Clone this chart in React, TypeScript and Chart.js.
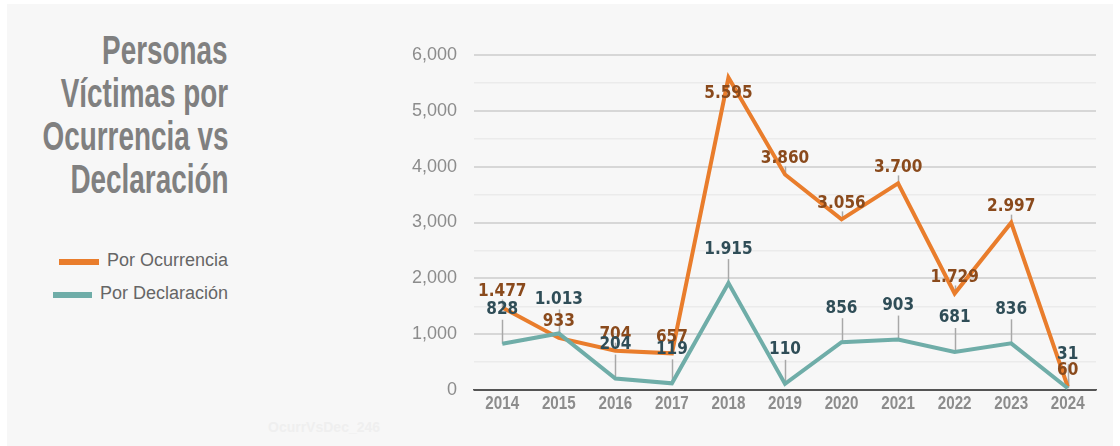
import React, { useEffect, useRef } from "react";
import { Chart, registerables } from "chart.js";

Chart.register(...registerables);

const years = ["2014", "2015", "2016", "2017", "2018", "2019", "2020", "2021", "2022", "2023", "2024"];
const porOcurrencia = [1477, 933, 704, 657, 5595, 3860, 3056, 3700, 1729, 2997, 60];
const porDeclaracion = [828, 1013, 204, 119, 1915, 110, 856, 903, 681, 836, 31];
const titleLines = ["Personas", "Víctimas por", "Ocurrencia vs", "Declaración"];
const seriesNames = ["Por Ocurrencia", "Por Declaración"];
const yMax = 6000;
const yStep = 500;

const ORANGE = "#e97d2c";
const TEAL = "#6fada8";
const ORANGE_LABEL = "#8a4a1c";
const TEAL_LABEL = "#2f4d57";

const fmtDot = (v: number) => String(v).replace(/\B(?=(\d{3})+(?!\d))/g, ".");
const fmtComma = (v: number) => String(v).replace(/\B(?=(\d{3})+(?!\d))/g, ",");

const labelPlugin = {
  id: "pointLabels",
  beforeDatasetsDraw(chart: any) {
    const ctx = chart.ctx;
    ctx.save();
    ctx.strokeStyle = "#a8a8a8";
    ctx.lineWidth = 1.5;
    chart.data.datasets.forEach((ds: any, di: number) => {
      const meta = chart.getDatasetMeta(di);
      const cfg = ds.labelCfg;
      meta.data.forEach((pt: any) => {
        const below = cfg.canFlip && pt.y - cfg.offset - 9 < chart.chartArea.top + 15;
        ctx.beginPath();
        ctx.moveTo(Math.round(pt.x) + 0.5, pt.y);
        ctx.lineTo(Math.round(pt.x) + 0.5, below ? pt.y + cfg.lead : pt.y - cfg.lead);
        ctx.stroke();
      });
    });
    ctx.restore();
  },
  afterDatasetsDraw(chart: any) {
    const ctx = chart.ctx;
    ctx.save();
    ctx.textAlign = "center";
    ctx.textBaseline = "middle";
    ctx.font = "bold 17px 'DejaVu Sans Condensed', 'DejaVu Sans', sans-serif";
    const order = [1, 0];
    order.forEach((di) => {
      const ds: any = chart.data.datasets[di];
      const meta = chart.getDatasetMeta(di);
      const cfg = ds.labelCfg;
      ctx.fillStyle = cfg.color;
      meta.data.forEach((pt: any, i: number) => {
        const below = cfg.canFlip && pt.y - cfg.offset - 9 < chart.chartArea.top + 15;
        const y = below ? pt.y + cfg.offset : pt.y - cfg.offset;
        ctx.fillText(fmtDot(ds.data[i]), pt.x, y);
      });
    });
    ctx.restore();
  },
  afterDraw(chart: any) {
    // condensed category labels
    const ctx = chart.ctx;
    const xs = chart.scales.x;
    ctx.save();
    ctx.fillStyle = "#8c8c8c";
    ctx.font = "bold 19px 'Liberation Sans', sans-serif";
    ctx.textAlign = "center";
    ctx.textBaseline = "alphabetic";
    const labels = chart.data.labels;
    labels.forEach((lab: string, i: number) => {
      const x = xs.getPixelForTick(i);
      ctx.save();
      ctx.translate(x, chart.chartArea.bottom + 19);
      ctx.scale(0.8, 1);
      ctx.fillText(lab, 0, 0);
      ctx.restore();
    });
    ctx.restore();
  },
};

function LineChart() {
  const ref = useRef<HTMLCanvasElement>(null);
  useEffect(() => {
    if (!ref.current) return;
    const chart = new Chart(ref.current, {
      type: "line",
      data: {
        labels: years,
        datasets: [
          {
            label: seriesNames[1],
            data: porDeclaracion,
            borderColor: TEAL,
            borderWidth: 4,
            pointRadius: 0,
            tension: 0,
            labelCfg: { color: TEAL_LABEL, offset: 34, lead: 24, canFlip: false },
          } as any,
          {
            label: seriesNames[0],
            data: porOcurrencia,
            borderColor: ORANGE,
            borderWidth: 4,
            pointRadius: 0,
            tension: 0,
            labelCfg: { color: ORANGE_LABEL, offset: 16, lead: 8, canFlip: true },
          } as any,
        ],
      },
      options: {
        responsive: false,
        animation: false,
        layout: { padding: { top: 55, right: 24, left: 0, bottom: 0 } },
        plugins: { legend: { display: false }, tooltip: { enabled: false }, title: { display: false } },
        scales: {
          x: {
            offset: true,
            grid: { display: false, drawTicks: false },
            border: { display: true, color: "#555555", width: 1.5 },
            ticks: {
              color: "rgba(0,0,0,0)",
              padding: 1,
              font: { family: "'Liberation Sans', sans-serif", size: 19, weight: "bold" },
            },
            afterFit: (s: any) => {
              s.height = 56;
            },
          },
          y: {
            min: 0,
            max: yMax,
            border: { display: false },
            grid: {
              drawTicks: false,
              color: (c: any) =>
                c.tick && c.tick.value === 0 ? "#555555" : c.tick && c.tick.value % 1000 === 0 ? "#d7d7d7" : "#ebebeb",
              lineWidth: (c: any) => (c.tick && c.tick.value % 1000 === 0 ? 2 : 1.5),
            },
            ticks: {
              stepSize: yStep,
              padding: 17,
              color: "#8c8c8c",
              font: { family: "'Liberation Sans', sans-serif", size: 18 },
              callback: (v: any) => (Number(v) % 1000 === 0 ? fmtComma(Number(v)) : ""),
            },
            afterFit: (s: any) => {
              s.width = 94;
            },
          },
        },
      } as any,
      plugins: [labelPlugin],
    });
    return () => chart.destroy();
  }, []);
  return (
    <canvas
      ref={ref}
      width={740}
      height={446}
      style={{ position: "absolute", left: 380, top: 0, width: 740, height: 446 }}
    />
  );
}

export default function App() {
  return (
    <div>
      <div style={{ position: "absolute", left: 7, top: 4, width: 1106, height: 442, background: "#f7f7f7" }} />
      <div
        style={{
          position: "absolute",
          left: 0,
          top: 29,
          width: 228,
          fontFamily: "'Liberation Sans', sans-serif",
          fontWeight: "bold",
          fontSize: 41,
          lineHeight: "43px",
          color: "#808080",
        }}
      >
        {titleLines.map((t) => (
          <div key={t} style={{ display: "flex", justifyContent: "flex-end", width: 228, height: 43 }}>
            <span
              style={{
                display: "inline-block",
                transform: "scaleX(0.68)",
                transformOrigin: "right center",
                whiteSpace: "nowrap",
              }}
            >
              {t}
            </span>
          </div>
        ))}
      </div>
      <div style={{ position: "absolute", left: 59, top: 258.5, width: 40, height: 6, background: ORANGE }} />
      <div
        style={{
          position: "absolute",
          left: 0,
          top: 251.3,
          width: 228,
          textAlign: "right",
          fontFamily: "'Liberation Sans', sans-serif",
          fontSize: 18,
          lineHeight: "18px",
          color: "#666666",
          whiteSpace: "nowrap",
        }}
      >
        {seriesNames[0]}
      </div>
      <div style={{ position: "absolute", left: 53, top: 291.5, width: 39, height: 6, background: TEAL }} />
      <div
        style={{
          position: "absolute",
          left: 0,
          top: 283.8,
          width: 228,
          textAlign: "right",
          fontFamily: "'Liberation Sans', sans-serif",
          fontSize: 18,
          lineHeight: "18px",
          color: "#666666",
          whiteSpace: "nowrap",
        }}
      >
        {seriesNames[1]}
      </div>
      <div
        style={{
          position: "absolute",
          left: 268,
          top: 419,
          fontFamily: "'Liberation Sans', sans-serif",
          fontWeight: "bold",
          fontSize: 14,
          lineHeight: "16px",
          color: "#efefef",
          whiteSpace: "nowrap",
        }}
      >
        OcurrVsDec_246
      </div>
      <LineChart />
    </div>
  );
}
